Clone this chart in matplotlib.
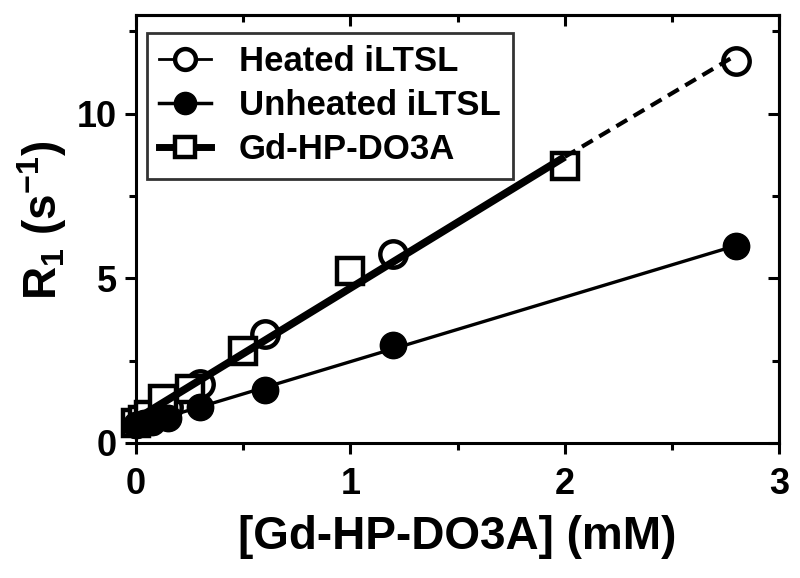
import numpy as np
import matplotlib
matplotlib.use("Agg")
import matplotlib.pyplot as plt
from matplotlib.lines import Line2D
from matplotlib.ticker import MultipleLocator

plt.rcParams['font.family'] = ['Liberation Sans', 'DejaVu Sans']
plt.rcParams['font.weight'] = 'bold'
plt.rcParams['mathtext.fontset'] = 'custom'
plt.rcParams['mathtext.rm'] = 'Liberation Sans:bold'
plt.rcParams['mathtext.bf'] = 'Liberation Sans:bold'
plt.rcParams['mathtext.it'] = 'Liberation Sans:bold'
plt.rcParams['mathtext.default'] = 'bf'

# ---- data ----
heated_x = [0.0, 0.0375, 0.075, 0.15, 0.3, 0.6, 1.2, 2.8]
heated_y = [0.60, 0.70, 0.85, 1.10, 1.80, 3.30, 5.75, 11.60]
unheated_x = [0.0, 0.0375, 0.075, 0.15, 0.3, 0.6, 1.2, 2.8]
unheated_y = [0.55, 0.60, 0.65, 0.75, 1.10, 1.60, 2.98, 5.97]
gd_x = [0.0, 0.03125, 0.0625, 0.125, 0.25, 0.5, 1.0, 2.0]
gd_y = [0.60, 0.70, 0.85, 1.35, 1.65, 2.80, 5.22, 8.42]
labels = ["Heated iLTSL", "Unheated iLTSL", "Gd-HP-DO3A"]
xticks = [0, 1, 2, 3]
yticks = [0, 5, 10]

fig = plt.figure(figsize=(8, 5.78), dpi=100)
ax = fig.add_axes([0.17, 0.2336, 0.804, 0.7404])

# markers
ax.plot(heated_x, heated_y, 'o', ms=19, mew=3.2, mec='black', mfc='white',
        linestyle='none', zorder=3, clip_on=False)
ax.plot(gd_x, gd_y, 's', ms=19, mew=3.2, mec='black', mfc='white',
        linestyle='none', zorder=3, clip_on=False)
ax.plot(unheated_x, unheated_y, 'o', ms=19, mew=1, mec='black', mfc='black',
        linestyle='none', zorder=4, clip_on=False)

# fit lines
p_g = np.polyfit(gd_x, gd_y, 1)
xg = np.array([0, max(gd_x)])
ax.plot(xg, np.polyval(p_g, xg), color='black', lw=5.5, solid_capstyle='butt', zorder=6)
# heated fit: dashed part continues beyond the Gd-HP-DO3A line
p_h = np.polyfit(heated_x, heated_y, 1)
xh = np.array([max(gd_x), max(heated_x)])
yh = np.polyval(p_h, xh)
yh[0] = np.polyval(p_g, max(gd_x))
ax.plot(xh, yh, color='black', lw=3, dashes=(3.0, 1.8), zorder=5)
p_u = np.polyfit(unheated_x, unheated_y, 1)
xu = np.array([0, max(unheated_x)])
ax.plot(xu, np.polyval(p_u, xu), color='black', lw=2.4, zorder=5)

ax.set_xlim(0, 3)
ax.set_ylim(0, 13)
ax.set_xticks(xticks)
ax.set_yticks(yticks)
ax.xaxis.set_minor_locator(MultipleLocator(0.5))
ax.yaxis.set_minor_locator(MultipleLocator(2.5))
for s in ax.spines.values():
    s.set_linewidth(2.2)
ax.tick_params(axis='x', which='major', pad=9)
ax.tick_params(axis='y', which='major', pad=6)
ax.tick_params(which='major', direction='out', length=8, width=2.2, labelsize=26)
ax.tick_params(which='minor', direction='out', length=5, width=2.2)

# mirrored ticks (inward) on top/right
secx = ax.secondary_xaxis('top')
secx.set_xticks(xticks)
secx.xaxis.set_minor_locator(MultipleLocator(0.5))
secx.tick_params(which='major', direction='in', length=8, width=2.2, labeltop=False)
secx.tick_params(which='minor', direction='in', length=5, width=2.2)
secx.spines['top'].set_linewidth(2.2)
secy = ax.secondary_yaxis('right')
secy.set_yticks(yticks)
secy.yaxis.set_minor_locator(MultipleLocator(2.5))
secy.tick_params(which='major', direction='in', length=8, width=2.2, labelright=False)
secy.tick_params(which='minor', direction='in', length=5, width=2.2)
secy.spines['right'].set_linewidth(2.2)

ax.set_xlabel("[Gd-HP-DO3A] (mM)", fontsize=33, fontweight='bold', labelpad=10)
ax.set_ylabel(r"R$_1$ (s$^{-1}$)", fontsize=33, fontweight='bold')
ax.yaxis.set_label_coords(-0.104, 0.52)

handles = [
    Line2D([], [], color='black', lw=2, marker='o', ms=15, mew=3.2, mfc='white', mec='black'),
    Line2D([], [], color='black', lw=2.5, marker='o', ms=16, mew=1, mfc='black', mec='black'),
    Line2D([], [], color='black', lw=5, marker='s', ms=15, mew=3.2, mfc='white', mec='black'),
]
leg = ax.legend(handles, labels, loc='upper left', bbox_to_anchor=(0.017, 0.958),
                borderaxespad=0, fontsize=25, frameon=True, fancybox=False,
                edgecolor='black', handlelength=1.5, handletextpad=0.8,
                labelspacing=0.32, borderpad=0.35)
leg.get_frame().set_linewidth(2)
for t in leg.get_texts():
    t.set_fontweight('bold')

fig.savefig("out.png", dpi=100)
